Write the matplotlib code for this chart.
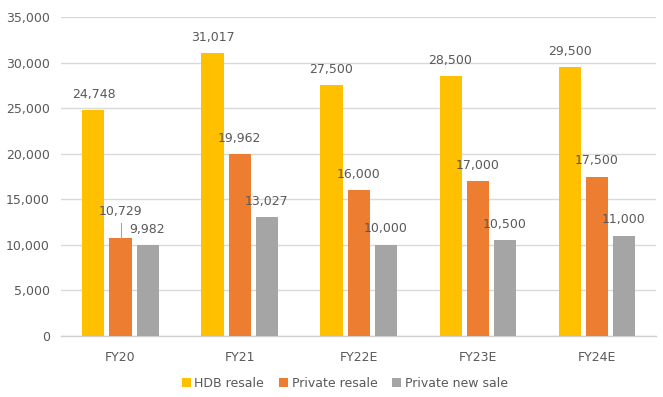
import matplotlib
matplotlib.use("Agg")
import matplotlib.pyplot as plt
import numpy as np

categories = ["FY20", "FY21", "FY22E", "FY23E", "FY24E"]
hdb_resale = [24748, 31017, 27500, 28500, 29500]
private_resale = [10729, 19962, 16000, 17000, 17500]
private_new = [9982, 13027, 10000, 10500, 11000]
series_names = ["HDB resale", "Private resale", "Private new sale"]
colors = ["#FFC000", "#ED7D31", "#A5A5A5"]
yticks = [0, 5000, 10000, 15000, 20000, 25000, 30000, 35000]

plt.rcParams['font.family'] = ['DejaVu Sans']
txt = "#595959"

fig = plt.figure(figsize=(6.63, 3.97), dpi=100)
ax = fig.add_axes([0.092, 0.1537, 0.8975, 0.8033])

x = np.arange(len(categories))
w = 0.185
step = 0.227
data = [hdb_resale, private_resale, private_new]
for i, (vals, c, n) in enumerate(zip(data, colors, series_names)):
    ax.bar(x + (i - 1) * step, vals, width=w, color=c, label=n, zorder=3)
    for j, v in enumerate(vals):
        xi = x[j] + (i - 1) * step
        if i == 1 and j == 0:
            ax.annotate(f"{v:,}", xy=(xi, v), xytext=(0, 19), textcoords="offset points",
                        ha="center", va="center", fontsize=9, color=txt, zorder=4)
            ax.plot([xi, xi], [v, v + 1700], color="#A6A6A6", lw=0.8, zorder=4)
        else:
            ax.annotate(f"{v:,}", xy=(xi, v), xytext=(0, 11.5), textcoords="offset points",
                        ha="center", va="center", fontsize=9, color=txt, zorder=4)

ax.set_xlim(-0.5, len(categories) - 0.5)
ax.set_ylim(0, 35000)
ax.set_yticks(yticks)
ax.set_yticklabels([f"{t:,}" for t in yticks])
ax.set_xticks(x)
ax.set_xticklabels(categories)
ax.tick_params(axis='both', length=0, labelsize=9, colors=txt)
ax.tick_params(axis='y', pad=8)
ax.tick_params(axis='x', pad=11)
ax.grid(axis='y', color="#D9D9D9", linewidth=1, zorder=0)
for s in ["top", "right", "left"]:
    ax.spines[s].set_visible(False)
ax.spines["bottom"].set_color("#D0D0D0")
ax.spines["bottom"].set_linewidth(1)

leg = fig.legend(loc="center", bbox_to_anchor=(0.52, 0.035), ncol=3, frameon=False,
                 fontsize=9, handlelength=0.7, handleheight=0.7, handletextpad=0.3,
                 columnspacing=1.2)
for t in leg.get_texts():
    t.set_color(txt)

fig.savefig("out.png", dpi=100)
